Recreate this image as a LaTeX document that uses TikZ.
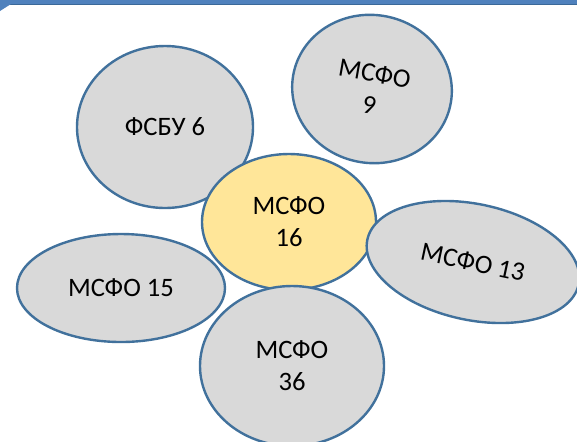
\documentclass[tikz,border=0pt]{standalone}
\usepackage{fontspec}
\setmainfont{Carlito}
\usepackage{tikz}
\usetikzlibrary{positioning}
\usetikzlibrary{shapes.geometric}
\definecolor{petalline}{HTML}{41719C}
\definecolor{petalgray}{HTML}{D9D9D9}
\definecolor{coreyellow}{HTML}{FFE699}
\definecolor{barblue}{HTML}{4F81BD}
\definecolor{bardark}{HTML}{3A6898}

\begin{document}
\begin{tikzpicture}[
  petal/.style={on grid, ellipse, draw=petalline, line width=1.2pt, fill=petalgray,
    inner sep=0pt, align=center, font=\fontsize{13.3}{16}\selectfont},
  core/.style={petal, fill=coreyellow}]
\useasboundingbox (0,0) rectangle (288.5pt,-220.5pt);
\fill[barblue] (0,0) rectangle (288.5pt,-2.2pt);
\draw[bardark, line width=0.6pt] (0,-2.2pt) -- (288.5pt,-2.2pt);
\fill[barblue] (0,-2pt) -- (5.5pt,-2pt) -- (0,-5.5pt) -- cycle;

\coordinate (mid) at (144.5pt,-111pt);
\node[petal, minimum width=88pt, minimum height=81pt, above left=47.5pt and 62pt of mid, anchor=center] (fsbu6) {ФСБУ 6};
\node[petal, minimum width=80pt, minimum height=74pt, rotate=-10, above right=66.5pt and 41.5pt of mid, anchor=center] (ifrs9) {МСФО\\9};
\node[petal, minimum width=104pt, minimum height=54pt, below left=33pt and 84pt of mid, anchor=center] (ifrs15) {МСФО 15};
\node[core, minimum width=87pt, minimum height=68pt] (ifrs16) at (mid) {МСФО\\16};
\node[petal, minimum width=108pt, minimum height=58pt, rotate=-12, below right=20pt and 92pt of mid, anchor=center] (ifrs13) {МСФО 13};
\node[petal, minimum width=92pt, minimum height=80pt, below right=72pt and 1.5pt of mid, anchor=center] (ifrs36) {МСФО\\36};
\end{tikzpicture}
\end{document}
